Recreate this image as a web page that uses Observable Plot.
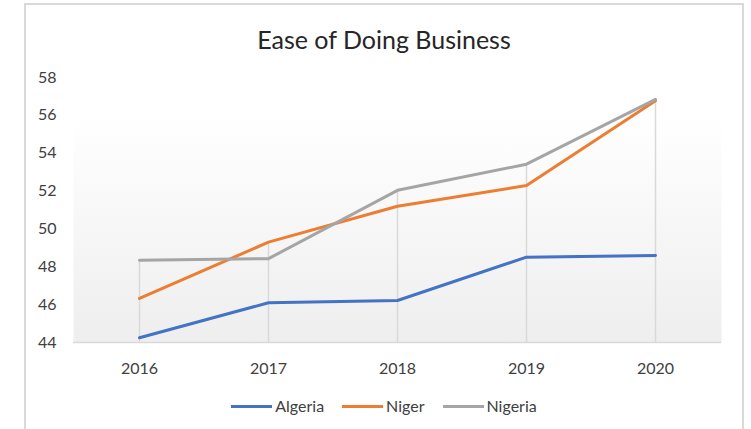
<!DOCTYPE html>
<html><head><meta charset="utf-8">
<script src="https://cdn.jsdelivr.net/npm/d3@7"></script>
<script src="https://cdn.jsdelivr.net/npm/@observablehq/plot@0.6"></script>
<style>
body{margin:0;background:#fff;font-family:Lato,"Open Sans",sans-serif}
#wrap{position:relative;width:751px;height:429px;overflow:hidden;background:#fff}
#border{position:absolute;left:24px;top:3px;width:716px;height:440px;border:2px solid #d9d9d9}
#title{position:absolute;left:25px;width:718px;top:24px;text-align:center;font-size:25px;line-height:30px;color:#262626}
#chart{position:absolute;left:0;top:0}
#legend{position:absolute;left:25px;width:718px;top:395px;display:flex;justify-content:center;align-items:center;font-size:16px;line-height:22px;color:#404040}
.item{display:flex;align-items:center;margin:0 9px}
.sw{display:inline-block;width:41px;height:3px;margin-right:3px}
</style></head>
<body>
<div id="wrap">
  <div id="border"></div>
  <div id="chart"></div>
  <div id="title">Ease of Doing Business</div>
  <div id="legend"></div>
</div>
<script>
const years = ["2016", "2017", "2018", "2019", "2020"];
const series = ["Algeria", "Niger", "Nigeria"];
const colors = ["#4472C4", "#ED7D31", "#A5A5A5"];
const algeria = [44.25, 46.1, 46.22, 48.51, 48.6];
const niger = [46.33, 49.3, 51.2, 52.29, 56.77];
const nigeria = [48.34, 48.43, 52.04, 53.42, 56.84];
const yTicks = [44, 46, 48, 50, 52, 54, 56, 58];

const values = [algeria, niger, nigeria];
const data = [];
series.forEach((s, i) => years.forEach((y, j) => data.push({country: s, year: y, value: values[i][j]})));
const drops = years.map((y, j) => ({year: y, max: Math.max(...values.map(v => v[j]))}));

const svg = Plot.plot({
  width: 751, height: 429,
  marginLeft: 73, marginRight: 30, marginTop: 77, marginBottom: 87,
  style: {fontFamily: "Lato, 'Open Sans', sans-serif", fontSize: "16px", color: "#404040", background: "transparent"},
  x: {type: "point", domain: years, padding: 0.5, label: null, tickSize: 0, tickPadding: 20},
  y: {domain: [44, 58], ticks: yTicks, label: null, tickSize: 0, tickPadding: 17},
  color: {domain: series, range: colors},
  marks: [
    Plot.frame({fill: "url(#bg)", stroke: null}),
    Plot.ruleX(drops, {x: "year", y1: 44, y2: "max", stroke: "#d9d9d9", strokeWidth: 1.5}),
    Plot.ruleY([44], {stroke: "#d9d9d9", strokeWidth: 1.5}),
    Plot.line(data, {x: "year", y: "value", z: "country", stroke: "country", strokeWidth: 3})
  ]
});
const defs = d3.select(svg).insert("defs", ":first-child");
const g = defs.append("linearGradient").attr("id", "bg").attr("x1", 0).attr("y1", 0).attr("x2", 0).attr("y2", 1);
g.append("stop").attr("offset", "0").attr("stop-color", "#ffffff");
g.append("stop").attr("offset", "0.15").attr("stop-color", "#ffffff");
g.append("stop").attr("offset", "1").attr("stop-color", "#eeeeee");
document.getElementById("chart").appendChild(svg);

const legend = document.getElementById("legend");
series.forEach((s, i) => {
  const it = document.createElement("div");
  it.className = "item";
  it.innerHTML = `<span class="sw" style="background:${colors[i]}"></span><span>${s}</span>`;
  legend.appendChild(it);
});
</script>
</body></html>
